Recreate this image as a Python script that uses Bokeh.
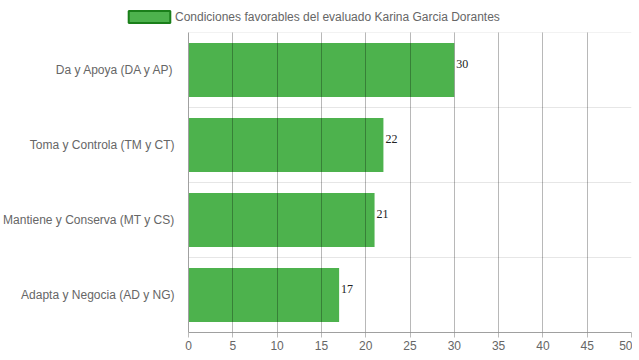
from bokeh.plotting import figure
from bokeh.models import FactorRange, Range1d, Span, Legend, LegendItem, FixedTicker, ColumnDataSource
from bokeh.layouts import column
from bokeh.core.properties import value
from bokeh.embed import file_html
from bokeh.resources import INLINE

categories = ["Adapta y Negocia (AD y NG)", "Mantiene y Conserva (MT y CS)",
              "Toma y Controla (TM y CT)", "Da y Apoya (DA y AP)"]
values = [17, 21, 22, 30]
x_ticks = [0, 5, 10, 15, 20, 25, 30, 35, 40, 45, 50]
series_name = "Condiciones favorables del evaluado Karina Garcia Dorantes"

BAR = "#4db24d"
src = ColumnDataSource(dict(cat=categories, val=values, lab=[str(v) for v in values]))

p = figure(y_range=FactorRange(*categories), x_range=Range1d(0, 50),
           frame_width=443, frame_height=300, output_backend="svg",
           toolbar_location=None, min_border_left=179, min_border_top=0,
           min_border_right=1, min_border_bottom=20)
p.outline_line_color = None

# grid
p.xgrid.ticker = FixedTicker(ticks=x_ticks)
p.xgrid.grid_line_color = "black"
p.xgrid.grid_line_alpha = 0.28
p.xgrid.level = "overlay"
p.ygrid.grid_line_color = None
for k in range(len(categories) + 1):
    p.add_layout(Span(location=k, dimension="width", line_color="#e6e6e6", line_width=1, level="underlay"))

p.hbar(y="cat", right="val", left=0, height=0.72, source=src,
       fill_color=BAR, line_color=None)
p.text(x="val", y="cat", text="lab", source=src, x_offset=2, y_offset=-6,
       text_baseline="middle", text_align="left",
       text_font=value("Liberation Serif"), text_font_size="12px", text_color="#222222")

# axes
p.xaxis.ticker = FixedTicker(ticks=x_ticks)
for ax in (p.xaxis[0], p.yaxis[0]):
    ax.axis_line_color = "#a0a0a0"
    ax.major_label_text_font = "Liberation Sans"
    ax.major_label_text_font_size = "12px"
    ax.major_label_text_color = "#666666"
    ax.minor_tick_line_color = None
p.xaxis.major_tick_out = 5
p.xaxis.major_tick_in = 0
p.xaxis.major_tick_line_color = "#bbbbbb"
p.xaxis.major_label_standoff = 3
p.yaxis.major_tick_line_color = None
p.yaxis.major_label_standoff = 8

# legend in a header figure
h = figure(x_range=Range1d(0, 1), y_range=Range1d(0, 1), frame_width=623, frame_height=32,
           output_backend="svg", toolbar_location=None,
           min_border=0)
h.axis.visible = False
h.grid.grid_line_color = None
h.outline_line_color = None
dummy = h.hbar(y=[5], right=[6], left=[5], height=0.5, fill_color=BAR,
               line_color="#1a7f1a", line_width=2)
leg = Legend(items=[LegendItem(label=series_name, renderers=[dummy])],
             location=(123, 8), orientation="horizontal",
             glyph_width=52, glyph_height=15, label_height=15, label_standoff=0,
             padding=0, margin=0, spacing=0,
             border_line_color=None, background_fill_alpha=0,
             label_text_font="Liberation Sans", label_text_font_size="12px",
             label_text_color="#666666")
h.add_layout(leg, "center")

open("out.html", "w").write(file_html(column(h, p, spacing=0), INLINE))
